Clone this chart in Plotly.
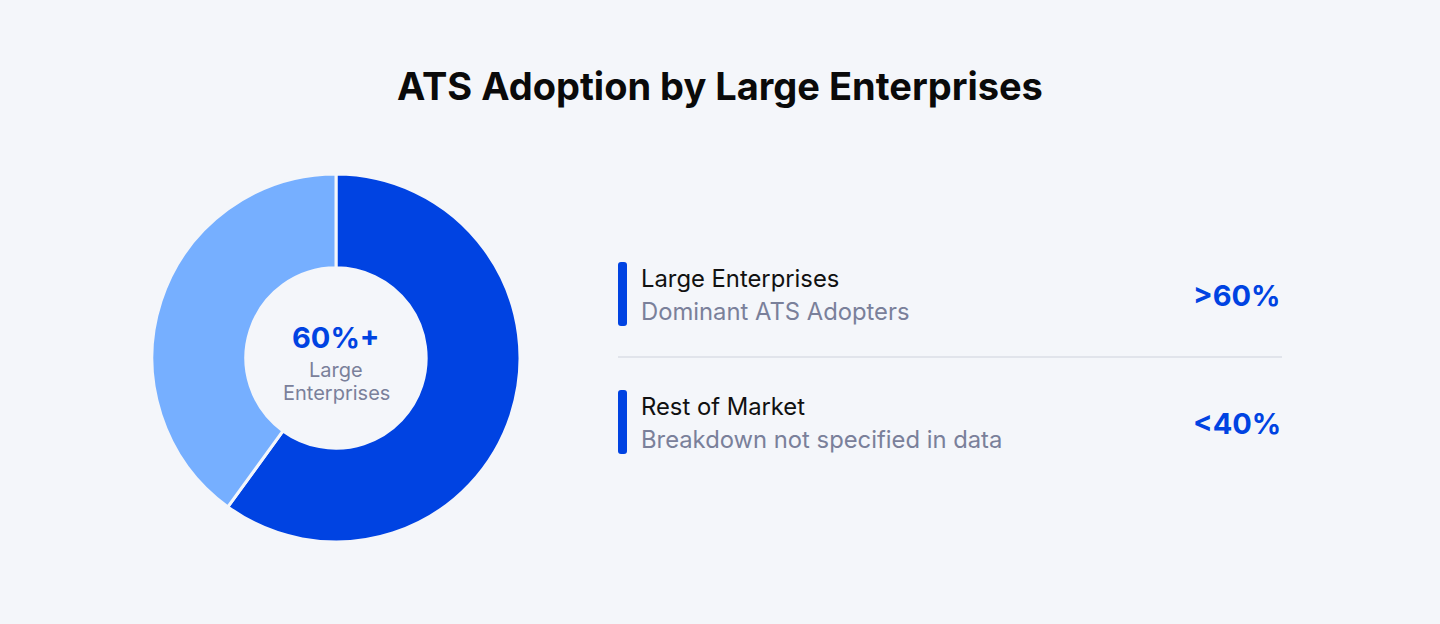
import plotly.graph_objects as go

W, H = 1440, 624

categories = ["Large Enterprises", "Rest of Market"]
values = [60, 40]
subtitles = ["Dominant ATS Adopters", "Breakdown not specified in data"]
value_labels = [">60%", "<40%"]
colors = ["#0043E2", "#76AFFF"]
bar_color = "#0043E2"
center_value = "60%+"
center_lines = ["Large", "Enterprises"]
title = "ATS Adoption by Large Enterprises"

BG = "#F4F6FA"
FONT = "Inter"

def px(x):
    return x / W

def py(y):
    return 1 - y / H

cx, cy, R = 336, 358, 184

fig = go.Figure()
fig.add_trace(go.Pie(
    labels=categories,
    values=values,
    hole=0.49,
    sort=False,
    direction="clockwise",
    rotation=0,
    marker=dict(colors=colors, line=dict(color="#F4F6FA", width=3)),
    textinfo="none",
    hoverinfo="label+percent",
    showlegend=False,
    domain=dict(x=[px(cx - R), px(cx + R)], y=[py(cy + R), py(cy - R)]),
))

annotations = [
    dict(text=title, x=0.5, y=py(86), xref="paper", yref="paper",
         showarrow=False, font=dict(family=FONT, size=38, color="#0A0A0A", weight=700),
         xanchor="center", yanchor="middle"),
    dict(text=center_value, x=px(cx), y=py(337), xref="paper", yref="paper",
         showarrow=False, font=dict(family=FONT, size=29, color="#0043E2", weight=700),
         xanchor="center", yanchor="middle"),
    dict(text=center_lines[0], x=px(cx), y=py(370), xref="paper", yref="paper",
         showarrow=False, font=dict(family=FONT, size=20, color="#7A809A"),
         xanchor="center", yanchor="middle"),
    dict(text=center_lines[1], x=px(cx), y=py(393), xref="paper", yref="paper",
         showarrow=False, font=dict(family=FONT, size=20, color="#7A809A"),
         xanchor="center", yanchor="middle"),
]

shapes = []
row_tops = [262, 390]
for i, top in enumerate(row_tops):
    mid = top + 32
    annotations.append(dict(text=categories[i], x=px(639), y=py(mid - 16), xref="paper", yref="paper",
                            showarrow=False, font=dict(family=FONT, size=23.8, color="#111111"),
                            xanchor="left", yanchor="middle"))
    annotations.append(dict(text=subtitles[i], x=px(639), y=py(mid + 17), xref="paper", yref="paper",
                            showarrow=False, font=dict(family=FONT, size=23.8, color="#7A809A"),
                            xanchor="left", yanchor="middle"))
    annotations.append(dict(text=value_labels[i], x=px(1283), y=py(mid + 1), xref="paper", yref="paper",
                            showarrow=False, font=dict(family=FONT, size=29, color="#0043E2", weight=700),
                            xanchor="right", yanchor="middle"))
    # rounded vertical bar
    x0, x1 = 618, 627
    y0, y1 = top, top + 64
    r = 3
    path = (f"M {px(x0)},{py(y0 + r)} Q {px(x0)},{py(y0)} {px(x0 + r)},{py(y0)} "
            f"L {px(x1 - r)},{py(y0)} Q {px(x1)},{py(y0)} {px(x1)},{py(y0 + r)} "
            f"L {px(x1)},{py(y1 - r)} Q {px(x1)},{py(y1)} {px(x1 - r)},{py(y1)} "
            f"L {px(x0 + r)},{py(y1)} Q {px(x0)},{py(y1)} {px(x0)},{py(y1 - r)} Z")
    shapes.append(dict(type="path", path=path, xref="paper", yref="paper",
                       fillcolor=bar_color, line=dict(width=0)))

shapes.append(dict(type="line", x0=px(618), x1=px(1282), y0=py(357), y1=py(357),
                   xref="paper", yref="paper", line=dict(color="#E1E4EB", width=2)))

fig.update_layout(
    width=W, height=H,
    margin=dict(l=0, r=0, t=0, b=0),
    paper_bgcolor=BG, plot_bgcolor=BG,
    annotations=annotations,
    shapes=shapes,
    font=dict(family=FONT),
)

fig.write_html("out.html")
